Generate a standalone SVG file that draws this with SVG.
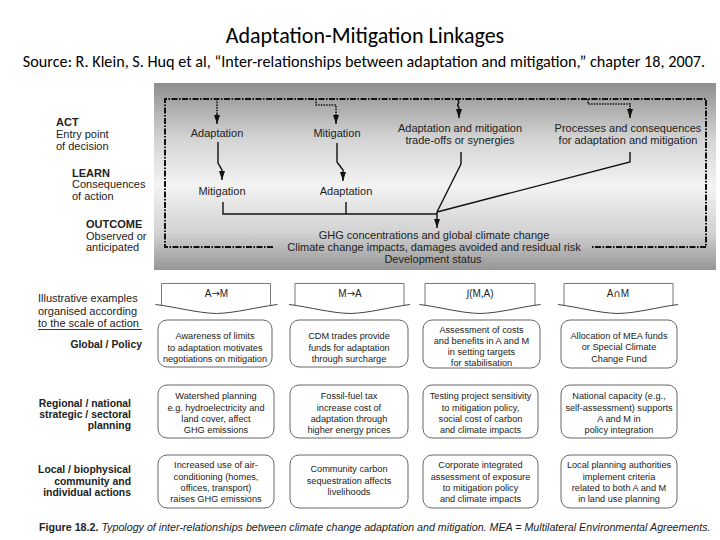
<svg xmlns="http://www.w3.org/2000/svg" width="720" height="540" viewBox="0 0 720 540">
<defs>
<linearGradient id="bg" x1="0" y1="0" x2="0" y2="1">
<stop offset="0" stop-color="#8f8f8f"/>
<stop offset="0.3" stop-color="#d4d4d4"/>
<stop offset="0.55" stop-color="#f3f3f3"/>
<stop offset="0.8" stop-color="#d2d2d2"/>
<stop offset="1" stop-color="#959595"/>
</linearGradient>
<marker id="ah" viewBox="0 0 9 6" refX="9" refY="3" markerWidth="9" markerHeight="6" markerUnits="userSpaceOnUse" orient="auto">
<path d="M0,0 L9,3 L0,6 z" fill="#111"/>
</marker>
<style>
text{font-family:"Liberation Sans",Arial,Helvetica,sans-serif;fill:#222}
.ttl{font-family:Carlito,Calibri,"Liberation Sans",sans-serif;fill:#000;text-anchor:middle}
.g{font-size:11px}
.m{text-anchor:middle}
.e{text-anchor:end}
.b{font-weight:bold}
.lb{font-size:11px}
.rl{font-size:10.4px;font-weight:bold;text-anchor:end}
.c{font-size:9.2px;text-anchor:middle}
.h{font-size:10px;text-anchor:middle}
.ar{font-family:"DejaVu Sans",sans-serif}
.loop{fill:none;stroke:#111;stroke-width:2;stroke-dasharray:6 1.5 1.5 1.5}
.dot{fill:none;stroke:#111;stroke-width:1.6;stroke-dasharray:1.5 1.2}
.ln{fill:none;stroke:#111;stroke-width:1.4}
.box{fill:#fff;stroke:#555;stroke-width:0.9}
.hd{fill:none;stroke:#777;stroke-width:1}
.hb{fill:none;stroke:#444;stroke-width:1}
</style>
</defs>
<rect width="720" height="540" fill="#fff"/>

<g id="title">
<text class="ttl" x="365" y="43" font-size="22">Adaptation-Mitigation Linkages</text>
<text class="ttl" x="364" y="67" font-size="16.2">Source: R. Klein, S. Huq et al, “Inter-relationships between adaptation and mitigation,” chapter 18, 2007.</text>
</g>

<rect id="panel" x="154" y="83" width="562" height="187" fill="url(#bg)"/>

<g id="stage-labels" class="lb">
<g id="act"><text x="56" y="126" class="b">ACT</text><text x="56" y="137.5">Entry point</text><text x="56" y="149.5">of decision</text></g>
<g id="learn"><text x="72" y="176.5" class="b">LEARN</text><text x="72" y="188">Consequences</text><text x="72" y="199.5">of action</text></g>
<g id="outcome"><text x="86" y="228" class="b">OUTCOME</text><text x="86" y="239.5">Observed or</text><text x="86" y="251">anticipated</text></g>
</g>

<g id="connectors">
<path class="loop" d="M273,247 H165 V99 H706 V247 H592"/>
<path class="dot" d="M217,99 V116"/>
<path class="ln" d="M217,114 V124" marker-end="url(#ah)"/>
<path class="dot" d="M316,99 V105 H336 V116"/>
<path class="ln" d="M336,114 V124" marker-end="url(#ah)"/>
<path class="ln" d="M457,99 Q460,102 458,104 Q457,106 459,107"/>
<path class="ln" d="M459,107 V118" marker-end="url(#ah)"/>
<path class="dot" d="M588,99 V104 H630 V110"/>
<path class="ln" d="M630,108 V118" marker-end="url(#ah)"/>
<path class="ln" d="M218,142 V163 L222,170 V180" marker-end="url(#ah)"/>
<path class="ln" d="M337,143 V162 L343,170 V181" marker-end="url(#ah)"/>
<path class="ln" d="M223,202 V214 H437"/>
<path class="ln" d="M346,202 V214"/>
<path class="ln" d="M461,152 V163 Q461,165 459,168 L437,212"/>
<path class="ln" d="M630,152 V162 L437,212"/>
<path class="ln" d="M437,212 V228" marker-end="url(#ah)"/>
</g>

<g id="n-adapt1" class="g m"><text x="217" y="137">Adaptation</text></g>
<g id="n-mitig1" class="g m"><text x="337" y="137">Mitigation</text></g>
<g id="n-mitig2" class="g m"><text x="222" y="195">Mitigation</text></g>
<g id="n-adapt2" class="g m"><text x="346" y="195">Adaptation</text></g>
<g id="n-tradeoffs" class="g m"><text x="460" y="132">Adaptation and mitigation</text><text x="460" y="144">trade-offs or synergies</text></g>
<g id="n-processes" class="g m"><text x="628" y="132">Processes and consequences</text><text x="628" y="144">for adaptation and mitigation</text></g>
<g id="n-outcome" class="g m"><text x="434" y="239">GHG concentrations and global climate change</text><text x="434" y="251">Climate change impacts, damages avoided and residual risk</text><text x="433" y="263">Development status</text></g>

<g id="row-labels">
<g id="illustrative" class="lb"><text x="38" y="302">Illustrative examples</text><text x="38" y="314.5">organised according</text><text x="38" y="327">to the scale of action</text><line x1="38" y1="329.5" x2="142" y2="329.5" stroke="#222" stroke-width="0.9"/></g>
<g id="global"><text x="142" y="348" class="rl" font-size="11.3">Global / Policy</text></g>
<g id="regional"><text x="131" y="406.5" class="rl">Regional / national</text><text x="131" y="417.5" class="rl">strategic / sectoral</text><text x="131" y="428.5" class="rl">planning</text></g>
<g id="local"><text x="131" y="473" class="rl">Local / biophysical</text><text x="131" y="484.5" class="rl">community and</text><text x="131" y="496" class="rl">individual actions</text></g>
</g>

<g id="hdr-AM"><path class="hd" d="M161.5,305.5 V283.5 H270.5 V305.5"/><path class="hb" d="M155.5,304.5 C176,307 197,313 216.5,313.5 C236,313 257,307 277.5,304.5"/><text class="h" x="216.5" y="297">A<tspan class="ar">→</tspan>M</text></g>
<g id="hdr-MA"><path class="hd" d="M295,305.5 V283.5 H404 V305.5"/><path class="hb" d="M289,304.5 C310,307 330,313 350,313.5 C370,313 390,307 410,304.5"/><text class="h" x="350" y="297">M<tspan class="ar">→</tspan>A</text></g>
<g id="hdr-fMA"><path class="hd" d="M425,305.5 V283.5 H535 V305.5"/><path class="hb" d="M419.5,304.5 C440,307 460,313 480,313.5 C500,313 520,307 540.5,304.5"/><text class="h" x="480" y="297">∫(M,A)</text></g>
<g id="hdr-AnM"><path class="hd" d="M564,305.5 V283.5 H673 V305.5"/><path class="hb" d="M558,304.5 C578,307 598,313 618,313.5 C638,313 658,307 678,304.5"/><text class="h" x="618" y="297">A<tspan class="ar">∩</tspan>M</text></g>

<g id="r1c1"><rect class="box" x="158" y="320" width="114" height="47" rx="9"/><text class="c" x="215" y="339">Awareness of limits</text><text class="c" x="215" y="350.5">to adaptation motivates</text><text class="c" x="215" y="362">negotiations on mitigation</text></g>
<g id="r1c2"><rect class="box" x="290" y="320" width="118" height="47" rx="9"/><text class="c" x="349" y="339">CDM trades provide</text><text class="c" x="349" y="350.5">funds for adaptation</text><text class="c" x="349" y="362">through surcharge</text></g>
<g id="r1c3"><rect class="box" x="423" y="320" width="117" height="48" rx="9"/><text class="c" x="481.5" y="332.5">Assessment of costs</text><text class="c" x="481.5" y="344">and benefits in A and M</text><text class="c" x="481.5" y="355">in setting targets</text><text class="c" x="481.5" y="366">for stabilisation</text></g>
<g id="r1c4"><rect class="box" x="561" y="320" width="116" height="48" rx="9"/><text class="c" x="619" y="338.5">Allocation of MEA funds</text><text class="c" x="619" y="350">or Special Climate</text><text class="c" x="619" y="361.5">Change Fund</text></g>

<g id="r2c1"><rect class="box" x="158" y="385" width="116" height="53" rx="9"/><text class="c" x="216" y="399">Watershed planning</text><text class="c" x="216" y="410.5">e.g. hydroelectricity and</text><text class="c" x="216" y="421.5">land cover, affect</text><text class="c" x="216" y="432.5">GHG emissions</text></g>
<g id="r2c2"><rect class="box" x="290" y="385" width="118" height="53" rx="9"/><text class="c" x="349" y="399">Fossil-fuel tax</text><text class="c" x="349" y="410.5">increase cost of</text><text class="c" x="349" y="421.5">adaptation through</text><text class="c" x="349" y="432.5">higher energy prices</text></g>
<g id="r2c3"><rect class="box" x="423" y="385" width="115" height="53" rx="9"/><text class="c" x="480.5" y="399">Testing project sensitivity</text><text class="c" x="480.5" y="410.5">to mitigation policy,</text><text class="c" x="480.5" y="421.5">social cost of carbon</text><text class="c" x="480.5" y="432.5">and climate impacts</text></g>
<g id="r2c4"><rect class="box" x="561" y="385" width="116" height="53" rx="9"/><text class="c" x="619" y="399">National capacity (e.g.,</text><text class="c" x="619" y="410.5">self-assessment) supports</text><text class="c" x="619" y="421.5">A and M in</text><text class="c" x="619" y="432.5">policy integration</text></g>

<g id="r3c1"><rect class="box" x="158" y="455" width="116" height="53" rx="9"/><text class="c" x="216" y="468">Increased use of air-</text><text class="c" x="216" y="479.5">conditioning (homes,</text><text class="c" x="216" y="490.5">offices, transport)</text><text class="c" x="216" y="501.5">raises GHG emissions</text></g>
<g id="r3c2"><rect class="box" x="290" y="455" width="118" height="53" rx="9"/><text class="c" x="349" y="472">Community carbon</text><text class="c" x="349" y="483.5">sequestration affects</text><text class="c" x="349" y="495">livelihoods</text></g>
<g id="r3c3"><rect class="box" x="423" y="455" width="115" height="53" rx="9"/><text class="c" x="480.5" y="468">Corporate integrated</text><text class="c" x="480.5" y="479.5">assessment of exposure</text><text class="c" x="480.5" y="490.5">to mitigation policy</text><text class="c" x="480.5" y="501.5">and climate impacts</text></g>
<g id="r3c4"><rect class="box" x="561" y="455" width="116" height="53" rx="9"/><text class="c" x="619" y="468">Local planning authorities</text><text class="c" x="619" y="479.5">implement criteria</text><text class="c" x="619" y="490.5">related to both A and M</text><text class="c" x="619" y="501.5">in land use planning</text></g>

<g id="caption"><text x="39" y="531" font-size="10.7"><tspan font-weight="bold">Figure 18.2.</tspan><tspan font-style="italic"> Typology of inter-relationships between climate change adaptation and mitigation. MEA = Multilateral Environmental Agreements.</tspan></text></g>
</svg>
